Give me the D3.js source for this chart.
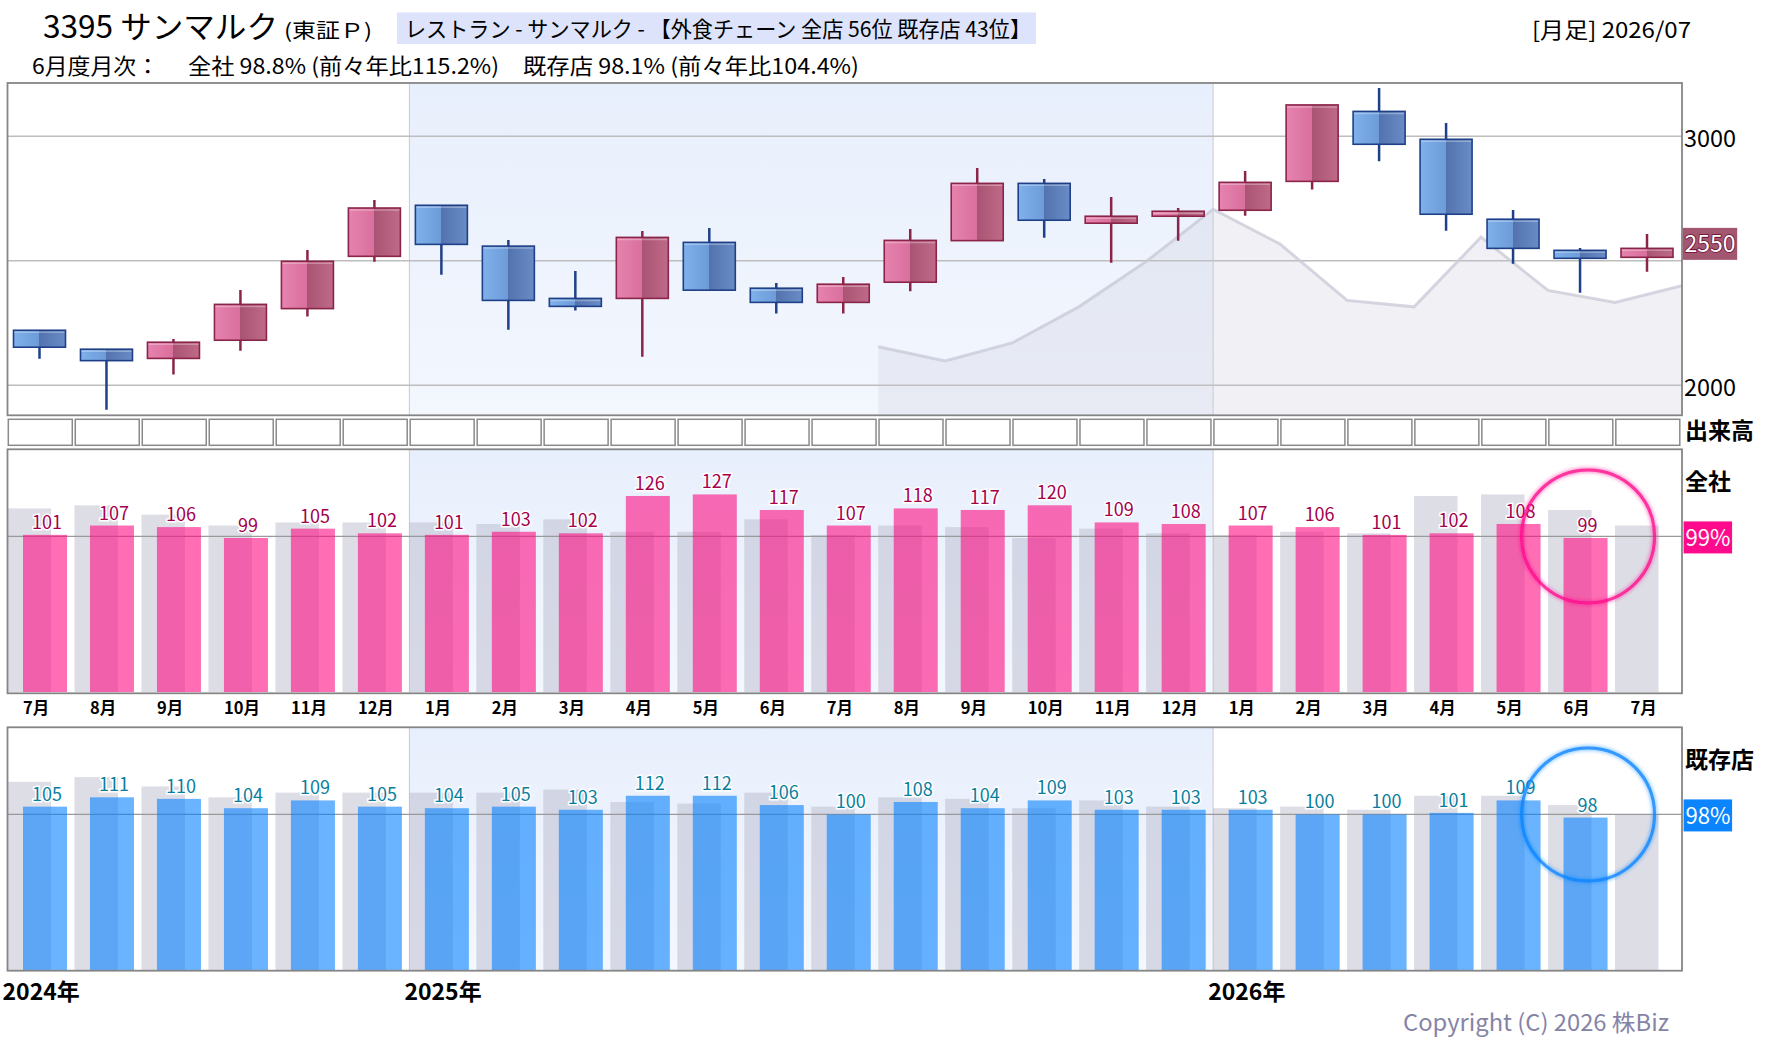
<!DOCTYPE html>
<html lang="ja">
<head>
<meta charset="utf-8">
<title>3395 サンマルク 月足</title>
<script src="https://cdn.jsdelivr.net/npm/d3@7"></script>
<style>
  body { margin: 0; background: #fff; }
  svg { display: block; font-family: "Noto Sans CJK JP", "Noto Sans", sans-serif; }
</style>
</head>
<body>
<svg id="chart"></svg>
<script>
// ---- data ----
const months = ['7月','8月','9月','10月','11月','12月','1月','2月','3月','4月','5月','6月',
                '7月','8月','9月','10月','11月','12月','1月','2月','3月','4月','5月','6月','7月'];
const yearLabels = ['2024年', '2025年', '2026年'];
const yearStart = [0, 6, 18];

// monthly candles 2024/07 .. 2026/07
const candleOpen  = [2221,2145,2108,2181,2308,2518,2723,2559,2349,2349,2574,2390,2333,2414,2581,2811,2651,2679,2703,2819,3100,2988,2667,2542,2514];
const candleClose = [2153,2099,2173,2325,2498,2712,2566,2341,2317,2594,2382,2333,2406,2582,2811,2663,2679,2699,2815,3126,2968,2687,2550,2510,2550];
const candleHigh  = [2221,2145,2186,2383,2543,2744,2723,2584,2459,2620,2632,2411,2435,2628,2873,2829,2756,2712,2861,3126,3194,3053,2704,2551,2608];
const candleLow   = [2107,1902,2043,2139,2276,2496,2444,2223,2300,2115,2382,2288,2288,2378,2581,2593,2492,2581,2681,2786,2900,2621,2488,2372,2456];

// grey background line (starts at slot boundary 13)
const avgStart = 13;
const avgLine = [2155,2098,2170,2316,2497,2707,2567,2341,2315,2595,2381,2333,2400];

const priceTicks = [2000, 2500, 3000];
const priceLabels = [2000, 3000];
const lastPrice = 2550;

// 全社 / 既存店 monthly % (current year, and same month one year before)
const zenshaCur  = [101,107,106,99,105,102,101,103,102,126,127,117,107,118,117,120,109,108,107,106,101,102,108,99];
const zenshaPrev = [118,120,114,107,109,109,109,108,111,103,103,111,101,107,106,99,105,102,101,103,102,126,127,117,107];
const kizonCur   = [105,111,110,104,109,105,104,105,103,112,112,106,100,108,104,109,103,103,103,100,100,101,109,98];
const kizonPrev  = [121,124,118,111,114,114,114,114,116,108,107,114,105,111,110,104,109,105,104,105,103,112,112,106,100];
const zenshaBadge = '99%';
const kizonBadge = '98%';

// ---- layout ----
const W = 1780, H = 1054;
const plotL = 7.5, plotR = 1682;
const mainTop = 83, mainBot = 415.3;
const volTop = 419.3, volBot = 445.3;
const zenTop = 449.3, zenBot = 693.3;
const kizTop = 727.3, kizBot = 970.7;

const svg = d3.select('#chart').attr('width', W).attr('height', H);

const x = d3.scaleBand().domain(d3.range(months.length)).range([plotL, plotR]);
const xb = d3.scaleLinear().domain([0, months.length]).range([plotL, plotR]);
const py = d3.scaleLinear().domain([2000, 3000]).range([385.3, 136.3]);
const zy = d3.scaleLinear().domain([0, 156]).range([692, zenTop]);
const ky = d3.scaleLinear().domain([0, 156]).range([970, kizTop]);

// ---- defs ----
const defs = svg.append('defs');
function hGrad(id, stops) {
  const g = defs.append('linearGradient').attr('id', id)
    .attr('x1', 0).attr('x2', 1).attr('y1', 0).attr('y2', 0);
  stops.forEach(s => g.append('stop').attr('offset', s[0]).attr('stop-color', s[1]));
}
hGrad('upGrad', [[0,'#e683ae'],[0.5,'#d96f9d'],[0.5,'#aa5473'],[1,'#c06a89']]);
hGrad('dnGrad', [[0,'#7fb1ea'],[0.5,'#6d9bd8'],[0.5,'#5273ad'],[1,'#6a8cc6']]);

const band = defs.append('linearGradient').attr('id', 'bandGrad')
  .attr('x1', 0).attr('x2', 0).attr('y1', 0).attr('y2', 1);
band.append('stop').attr('offset', 0).attr('stop-color', '#e8effc');
band.append('stop').attr('offset', 1).attr('stop-color', '#f3f7fe');

const glow = defs.append('filter').attr('id', 'glow')
  .attr('x', '-20%').attr('y', '-20%').attr('width', '140%').attr('height', '140%');
glow.append('feGaussianBlur').attr('stdDeviation', 2.2).attr('result', 'b');
const gm = glow.append('feMerge');
gm.append('feMergeNode').attr('in', 'b');
gm.append('feMergeNode').attr('in', 'SourceGraphic');

defs.append('clipPath').attr('id', 'mainClip').append('rect')
  .attr('x', plotL).attr('y', mainTop).attr('width', plotR - plotL).attr('height', mainBot - mainTop);

// ---- header ----
svg.append('text').attr('x', 43).attr('y', 37.5).attr('font-size', 31)
  .attr('textLength', 235).attr('lengthAdjust', 'spacingAndGlyphs')
  .text('3395 サンマルク');
svg.append('text').attr('x', 284).attr('y', 37.5).attr('font-size', 20)
  .attr('textLength', 88).attr('lengthAdjust', 'spacingAndGlyphs')
  .text('(東証Ｐ)');
svg.append('rect').attr('x', 397).attr('y', 12.5).attr('width', 639).attr('height', 31.5)
  .attr('fill', '#dce3fb');
svg.append('text').attr('x', 405).attr('y', 37).attr('font-size', 21.5)
  .attr('textLength', 626).attr('lengthAdjust', 'spacingAndGlyphs')
  .text('レストラン - サンマルク - 【外食チェーン 全店 56位 既存店 43位】');
svg.append('text').attr('x', 1532).attr('y', 37.5).attr('font-size', 22)
  .attr('textLength', 159).attr('lengthAdjust', 'spacingAndGlyphs')
  .text('[月足] 2026/07');

[['6月度月次：', 32, 127], ['全社 98.8% (前々年比115.2%)', 188, 311], ['既存店 98.1% (前々年比104.4%)', 523, 336]]
  .forEach(t => {
    svg.append('text').attr('x', t[1]).attr('y', 74).attr('font-size', 21.5)
      .attr('textLength', t[2]).attr('lengthAdjust', 'spacingAndGlyphs').text(t[0]);
  });

// ---- shaded 2025 band in each panel ----
[[mainTop, mainBot], [zenTop, zenBot], [kizTop, kizBot]].forEach(p => {
  svg.append('rect')
    .attr('x', x(yearStart[1])).attr('y', p[0])
    .attr('width', x(yearStart[2]) - x(yearStart[1])).attr('height', p[1] - p[0])
    .attr('fill', 'url(#bandGrad)');
  [yearStart[1], yearStart[2]].forEach(i => {
    svg.append('line').attr('x1', x(i)).attr('x2', x(i)).attr('y1', p[0]).attr('y2', p[1])
      .attr('stroke', '#c9c9d2').attr('stroke-width', 1);
  });
});

// ---- main candle panel ----
const main = svg.append('g').attr('clip-path', 'url(#mainClip)');

main.selectAll('.grid').data(priceTicks).join('line')
  .attr('class', 'grid')
  .attr('x1', plotL).attr('x2', plotR)
  .attr('y1', d => py(d)).attr('y2', d => py(d))
  .attr('stroke', '#bdbdbd').attr('stroke-width', 1.5);

const avgPts = avgLine.map((v, k) => [xb(avgStart + k), py(v)]);
main.append('path')
  .datum(avgPts)
  .attr('d', d3.area().x(d => d[0]).y0(mainBot).y1(d => d[1]))
  .attr('fill', 'rgba(200,200,215,0.25)');
main.append('path')
  .datum(avgPts)
  .attr('d', d3.line().x(d => d[0]).y(d => d[1]))
  .attr('fill', 'none').attr('stroke', 'rgba(200,200,215,0.75)').attr('stroke-width', 3);

const candles = main.selectAll('.candle').data(d3.range(candleOpen.length)).join('g')
  .attr('class', 'candle');
const isUp = i => candleClose[i] >= candleOpen[i];
candles.append('line')
  .attr('x1', i => x(i) + 32).attr('x2', i => x(i) + 32)
  .attr('y1', i => py(candleHigh[i])).attr('y2', i => py(candleLow[i]))
  .attr('stroke', i => isUp(i) ? '#8a2448' : '#1f4088').attr('stroke-width', 2.5);
candles.append('rect')
  .attr('x', i => x(i) + 6)
  .attr('y', i => py(Math.max(candleOpen[i], candleClose[i])))
  .attr('width', 52)
  .attr('height', i => Math.max(2, Math.abs(py(candleOpen[i]) - py(candleClose[i]))))
  .attr('fill', i => isUp(i) ? 'url(#upGrad)' : 'url(#dnGrad)')
  .attr('stroke', i => isUp(i) ? '#8a2448' : '#1f4088').attr('stroke-width', 1.6);
candles.append('line')
  .attr('x1', i => x(i) + 7).attr('x2', i => x(i) + 57)
  .attr('y1', i => py(Math.max(candleOpen[i], candleClose[i])) + 2)
  .attr('y2', i => py(Math.max(candleOpen[i], candleClose[i])) + 2)
  .attr('stroke', 'rgba(255,255,255,0.3)').attr('stroke-width', 1.5);

svg.append('rect').attr('x', plotL).attr('y', mainTop)
  .attr('width', plotR - plotL).attr('height', mainBot - mainTop)
  .attr('fill', 'none').attr('stroke', '#858585').attr('stroke-width', 1.8);

// price axis on the right
const pAxis = svg.append('g').attr('transform', `translate(${plotR},0)`)
  .call(d3.axisRight(py).tickValues(priceLabels).tickSize(0).tickPadding(2).tickFormat(d3.format('d')));
pAxis.select('.domain').remove();
pAxis.selectAll('text').attr('font-size', 23.5).attr('fill', '#000')
  .attr('font-family', '"Noto Sans CJK JP", sans-serif')
  .attr('textLength', 52).attr('lengthAdjust', 'spacingAndGlyphs')
  .attr('dy', '0.42em');

// last price tag
svg.append('rect').attr('x', plotR + 0.7).attr('y', py(lastPrice) - 20.5)
  .attr('width', 54.5).attr('height', 32).attr('fill', '#a3566f');
svg.append('text').attr('x', plotR + 2.5).attr('y', py(lastPrice) - 4.5).attr('dy', '0.36em')
  .attr('font-size', 23.5).attr('fill', '#fff')
  .attr('stroke', '#6a0a32').attr('stroke-width', 1.6).attr('paint-order', 'stroke')
  .attr('textLength', 51).attr('lengthAdjust', 'spacingAndGlyphs')
  .text(lastPrice);

// ---- volume row (empty boxes) ----
svg.selectAll('.vol').data(d3.range(months.length)).join('rect')
  .attr('class', 'vol')
  .attr('x', i => x(i) + 0.8).attr('y', volTop)
  .attr('width', x.bandwidth() - 3).attr('height', volBot - volTop)
  .attr('fill', '#fff').attr('stroke', '#8a8a8a').attr('stroke-width', 1.5);
svg.append('text').attr('x', 1685).attr('y', 439).attr('font-size', 23).attr('font-weight', 'bold')
  .text('出来高');

// ---- 全社 / 既存店 bar panels ----
function barPanel(cur, prev, yS, top, bot, fillColor, labelColor, title, titleY, badge, badgeColor) {
  const g = svg.append('g');

  g.selectAll('.prev').data(prev).join('rect')
    .attr('class', 'prev')
    .attr('x', (d, i) => x(i)).attr('width', 43.5)
    .attr('y', d => yS(d)).attr('height', d => yS(0) - yS(d))
    .attr('fill', 'rgba(180,180,200,0.45)');

  g.append('line').attr('x1', plotL).attr('x2', plotR)
    .attr('y1', yS(100)).attr('y2', yS(100))
    .attr('stroke', '#9a9a9a').attr('stroke-width', 1.2);

  g.selectAll('.cur').data(cur).join('rect')
    .attr('class', 'cur')
    .attr('x', (d, i) => x(i) + 15.5).attr('width', 44)
    .attr('y', d => yS(d)).attr('height', d => yS(0) - yS(d))
    .attr('fill', fillColor).attr('fill-opacity', 0.59);

  g.selectAll('.val').data(cur).join('text')
    .attr('class', 'val')
    .attr('x', (d, i) => x(i) + 39.5).attr('y', d => yS(d) - 6)
    .attr('text-anchor', 'middle').attr('font-size', 18)
    .attr('fill', labelColor)
    .attr('stroke', '#fff').attr('stroke-width', 3).attr('paint-order', 'stroke')
    .text(d => d);

  g.append('rect').attr('x', plotL).attr('y', top)
    .attr('width', plotR - plotL).attr('height', bot - top)
    .attr('fill', 'none').attr('stroke', '#858585').attr('stroke-width', 1.8);

  // highlight ring on the latest month
  const last = cur.length - 1;
  g.append('circle').attr('cx', x(last) + 40).attr('cy', yS(100))
    .attr('r', 66.5).attr('fill', 'none')
    .attr('stroke', badgeColor).attr('stroke-opacity', 0.75).attr('stroke-width', 3)
    .attr('filter', 'url(#glow)');

  svg.append('text').attr('x', 1685).attr('y', titleY).attr('font-size', 23).attr('font-weight', 'bold')
    .text(title);
  svg.append('rect').attr('x', 1683.6).attr('y', yS(100) - 15)
    .attr('width', 48.5).attr('height', 32).attr('fill', badgeColor);
  svg.append('text').attr('x', 1685.5).attr('y', yS(100) + 1).attr('dy', '0.36em')
    .attr('font-size', 22.5).attr('fill', '#fff')
    .attr('textLength', 45).attr('lengthAdjust', 'spacingAndGlyphs')
    .text(badge);
}

barPanel(zenshaCur, zenshaPrev, zy, zenTop, zenBot, 'rgb(255,9,128)', '#a3004e',
  '全社', 490, zenshaBadge, '#ff0a8c');
barPanel(kizonCur, kizonPrev, ky, kizTop, kizBot, 'rgb(2,128,255)', '#0a7e9e',
  '既存店', 768, kizonBadge, '#0a84ff');

// month labels under 全社 panel
svg.selectAll('.month').data(months).join('text')
  .attr('class', 'month')
  .attr('x', (d, i) => x(i) + 15.5).attr('y', 714)
  .attr('font-size', 16.5).attr('font-weight', 'bold')
  .text(d => d);

// year labels under 既存店 panel
svg.selectAll('.year').data(yearLabels).join('text')
  .attr('class', 'year')
  .attr('x', (d, i) => x(yearStart[i]) - 5).attr('y', 1000)
  .attr('font-size', 23).attr('font-weight', 'bold')
  .text(d => d);

svg.append('text').attr('x', 1669).attr('y', 1031).attr('text-anchor', 'end')
  .attr('font-size', 23).attr('fill', '#8584a6')
  .attr('textLength', 266).attr('lengthAdjust', 'spacingAndGlyphs')
  .text('Copyright (C) 2026 株Biz');
</script>
</body>
</html>
